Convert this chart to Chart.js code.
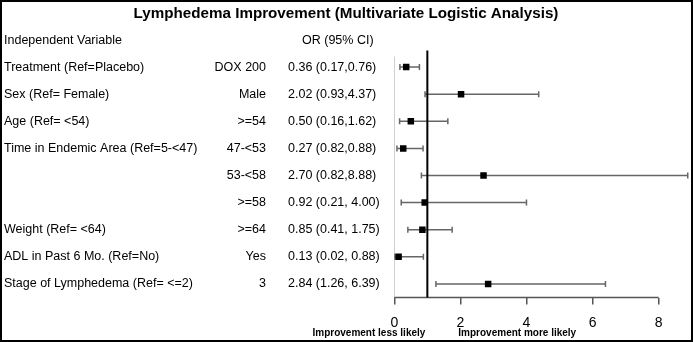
<!DOCTYPE html>
<html>
<head>
<meta charset="utf-8">
<script src="https://cdn.jsdelivr.net/npm/chart.js@4"></script>
<style>
  body { margin: 0; background: #fff; }
  #wrap { width: 693px; height: 342px; }
</style>
</head>
<body>
<div id="wrap"><canvas id="forestChart" width="693" height="342"></canvas></div>
<script>
// Rows of the forest plot, top to bottom
const variables = ['Treatment (Ref=Placebo)', 'Sex (Ref= Female)', 'Age (Ref= <54)', 'Time in Endemic Area (Ref=5-<47)', '', '', 'Weight (Ref= <64)', 'ADL in Past 6 Mo. (Ref=No)', 'Stage of Lymphedema (Ref= <=2)'];
const levels = ['DOX 200', 'Male', '>=54', '47-<53', '53-<58', '>=58', '>=64', 'Yes', '3'];
const orLabels = ['0.36 (0.17,0.76)', '2.02 (0.93,4.37)', '0.50 (0.16,1.62)', '0.27 (0.82,0.88)', '2.70 (0.82,8.88)', '0.92 (0.21, 4.00)', '0.85 (0.41, 1.75)', '0.13 (0.02, 0.88)', '2.84 (1.26, 6.39)'];
const oddsRatio = [0.36, 2.02, 0.50, 0.27, 2.70, 0.92, 0.85, 0.13, 2.84];
const ciLower = [0.17, 0.93, 0.16, 0.08, 0.82, 0.21, 0.41, 0.02, 1.26];
const ciUpper = [0.76, 4.37, 1.62, 0.87, 8.88, 4.00, 1.75, 0.88, 6.39];
const tickValues = [0, 2, 4, 6, 8];
const rowKeys = levels.map((l, i) => 'r' + i);

const FONT = "'Liberation Sans', Arial, sans-serif";

// text columns, error bars, reference lines, frame
const forestPlugin = {
  id: 'forest',
  beforeDatasetsDraw(chart) {
    const ctx = chart.ctx;
    const x = chart.scales.x, y = chart.scales.y;
    const area = chart.chartArea;
    ctx.save();
    // light line at 0
    ctx.strokeStyle = '#d0d0d0';
    ctx.lineWidth = 1;
    ctx.beginPath();
    ctx.moveTo(Math.round(x.getPixelForValue(0)) + 0.5, area.top + 3);
    ctx.lineTo(Math.round(x.getPixelForValue(0)) + 0.5, area.bottom);
    ctx.stroke();
    // x axis line from first to last tick
    ctx.strokeStyle = '#555';
    ctx.lineWidth = 1.5;
    ctx.beginPath();
    ctx.moveTo(x.getPixelForValue(tickValues[0]), area.bottom);
    ctx.lineTo(x.getPixelForValue(tickValues[tickValues.length - 1]), area.bottom);
    ctx.stroke();
    // error bars
    ctx.strokeStyle = '#666';
    ctx.lineWidth = 1.5;
    oddsRatio.forEach((v, i) => {
      const py = y.getPixelForValue(i);
      const x0 = x.getPixelForValue(ciLower[i]);
      const x1 = x.getPixelForValue(ciUpper[i]);
      ctx.beginPath();
      ctx.moveTo(x0, py); ctx.lineTo(x1, py);
      ctx.moveTo(x0, py - 3); ctx.lineTo(x0, py + 3);
      ctx.moveTo(x1, py - 3); ctx.lineTo(x1, py + 3);
      ctx.stroke();
    });
    // reference line at OR = 1
    ctx.strokeStyle = '#000';
    ctx.lineWidth = 2;
    ctx.beginPath();
    ctx.moveTo(x.getPixelForValue(1), area.top - 3);
    ctx.lineTo(x.getPixelForValue(1), area.bottom);
    ctx.stroke();
    ctx.restore();
  },
  afterDraw(chart) {
    const ctx = chart.ctx;
    const x = chart.scales.x, y = chart.scales.y;
    ctx.save();
    ctx.fillStyle = '#000';
    // title
    ctx.font = 'bold 15.2px ' + FONT;
    ctx.textAlign = 'center';
    ctx.textBaseline = 'middle';
    ctx.fillText('Lymphedema Improvement (Multivariate Logistic Analysis)', 346, 14);
    // headers
    ctx.font = '12.5px ' + FONT;
    ctx.textAlign = 'left';
    ctx.fillText('Independent Variable', 4, 41);
    ctx.fillText('OR (95% CI)', 302, 41);
    // rows
    variables.forEach((v, i) => {
      const py = y.getPixelForValue(i);
      ctx.textAlign = 'left';
      ctx.fillText(v, 4, py);
      ctx.textAlign = 'right';
      ctx.fillText(levels[i], 266, py);
      ctx.textAlign = 'left';
      ctx.fillText(orLabels[i], 288, py);
    });
    // direction labels
    const p1 = x.getPixelForValue(1);
    ctx.font = 'bold 10px ' + FONT;
    ctx.textAlign = 'right';
    ctx.fillText('Improvement less likely', p1 - 2, 333.5);
    ctx.textAlign = 'left';
    ctx.fillText('Improvement more likely', p1 + 31, 333.5);
    // frame
    ctx.strokeStyle = '#000';
    ctx.lineWidth = 2;
    ctx.strokeRect(1, 1, 691, 340);
    ctx.restore();
  }
};

const forestCtx = document.getElementById('forestChart').getContext('2d');

const forestChart = new Chart(forestCtx, {
  type: 'scatter',
  data: {
    labels: rowKeys,
    datasets: [{
      label: 'OR',
      data: oddsRatio.map((v, i) => ({ x: v, y: rowKeys[i] })),
      pointStyle: 'rect',
      pointRadius: 4.6,
      pointHoverRadius: 4.6,
      backgroundColor: '#000',
      borderColor: '#000',
      borderWidth: 0
    }]
  },
  options: {
    responsive: false,
    maintainAspectRatio: false,
    animation: false,
    layout: { padding: { left: 394.3, right: 4.1, top: 53.5, bottom: 0 } },
    plugins: { legend: { display: false }, tooltip: { enabled: false } },
    scales: {
      x: {
        type: 'linear',
        min: 0,
        max: 8.9,
        afterBuildTicks: (scale) => { scale.ticks = tickValues.map(v => ({ value: v })); },
        afterFit: (scale) => { scale.height = 44.5; },
        border: { display: false },
        grid: { drawOnChartArea: false, tickLength: 7, color: '#555', lineWidth: 1.5 },
        ticks: { color: '#000', font: { family: FONT, size: 14 }, padding: 10, maxRotation: 0 }
      },
      y: {
        type: 'category',
        labels: rowKeys,
        offset: true,
        display: false
      }
    }
  },
  plugins: [forestPlugin]
});
</script>
</body>
</html>
